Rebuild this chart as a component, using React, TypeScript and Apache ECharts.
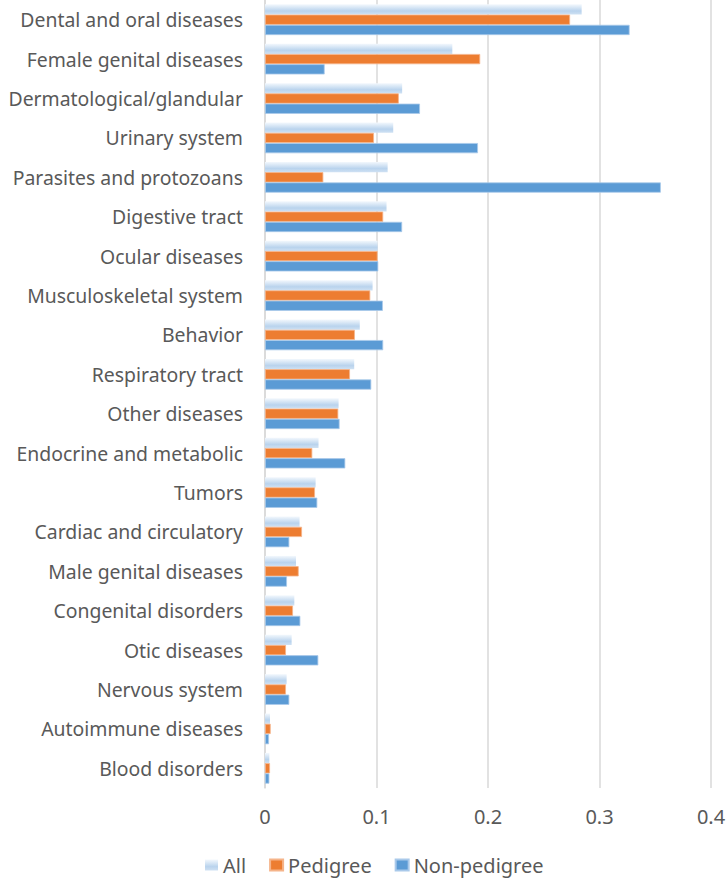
import React, { useEffect, useRef } from "react";
import * as echarts from "echarts";

const categories = [
  "Dental and oral diseases",
  "Female genital diseases",
  "Dermatological/glandular",
  "Urinary system",
  "Parasites and protozoans",
  "Digestive tract",
  "Ocular diseases",
  "Musculoskeletal system",
  "Behavior",
  "Respiratory tract",
  "Other diseases",
  "Endocrine and metabolic",
  "Tumors",
  "Cardiac and circulatory",
  "Male genital diseases",
  "Congenital disorders",
  "Otic diseases",
  "Nervous system",
  "Autoimmune diseases",
  "Blood disorders",
];

const allValues = [
  0.284, 0.168, 0.123, 0.115, 0.11, 0.109, 0.101, 0.0965, 0.085, 0.08, 0.066,
  0.048, 0.0454, 0.031, 0.0278, 0.0263, 0.0239, 0.0194, 0.0045, 0.0039,
];
const pedigreeValues = [
  0.2736, 0.193, 0.12, 0.0977, 0.0523, 0.106, 0.101, 0.0944, 0.0806, 0.0762,
  0.0657, 0.0424, 0.0448, 0.0332, 0.0302, 0.0251, 0.0188, 0.0188, 0.0051,
  0.0045,
];
const nonPedigreeValues = [
  0.327, 0.0535, 0.139, 0.191, 0.355, 0.123, 0.1016, 0.1057, 0.106, 0.0953,
  0.0669, 0.072, 0.0469, 0.0218, 0.0197, 0.0317, 0.0478, 0.0218, 0.0036,
  0.0039,
];
const seriesNames = ["All", "Pedigree", "Non-pedigree"];
const xTicks = { min: 0, max: 0.4, interval: 0.1 };

const FONT = "'Noto Sans', sans-serif";
const TEXT = "#595959";

export default function App() {
  const ref = useRef<HTMLDivElement>(null);
  useEffect(() => {
    document.body.style.margin = "0";
    const chart = echarts.init(ref.current!, null, { renderer: "svg" });
    const allGrad = new echarts.graphic.LinearGradient(0, 0, 0, 1, [
      { offset: 0, color: "#f3f8fd" },
      { offset: 0.65, color: "#b9d3ed" },
      { offset: 1, color: "#cfe1f3" },
    ]);
    chart.setOption({
      animation: false,
      textStyle: { fontFamily: FONT },
      grid: {
        left: 265,
        right: 16,
        top: 0,
        bottom: 90,
        containLabel: false,
        outerBoundsMode: "none",
      },
      legend: {
        data: seriesNames,
        top: 850,
        left: 200,
        icon: "rect",
        itemWidth: 13,
        itemHeight: 11,
        itemGap: 23,
        textStyle: { fontSize: 20, color: TEXT, fontFamily: FONT },
      },
      xAxis: {
        type: "value",
        min: xTicks.min,
        max: xTicks.max,
        interval: xTicks.interval,
        axisLine: { show: false },
        axisTick: { show: false },
        axisLabel: {
          fontSize: 20,
          color: TEXT,
          margin: 18,
          fontFamily: FONT,
          formatter: (v: number) => String(Math.round(v * 10) / 10),
        },
        splitLine: { lineStyle: { color: "#d9d9d9", width: 1.5 } },
      },
      yAxis: {
        type: "category",
        data: categories,
        inverse: true,
        axisLine: { show: true, lineStyle: { color: "#d9d9d9", width: 1.5 } },
        axisTick: { show: false },
        axisLabel: { fontSize: 19.4, color: TEXT, margin: 22, fontFamily: FONT },
      },
      series: [
        {
          name: seriesNames[0],
          type: "bar",
          data: allValues,
          barGap: "0%",
          barCategoryGap: "22%",
          itemStyle: { color: allGrad },
        },
        {
          name: seriesNames[1],
          type: "bar",
          data: pedigreeValues,
          barGap: "0%",
          barCategoryGap: "22%",
          itemStyle: { color: "#ED7D31", borderColor: "#f5b48a", borderWidth: 0.8 },
        },
        {
          name: seriesNames[2],
          type: "bar",
          data: nonPedigreeValues,
          barGap: "0%",
          barCategoryGap: "22%",
          itemStyle: { color: "#5B9BD5", borderColor: "#a9c9ea", borderWidth: 0.8 },
        },
      ],
    });
    return () => chart.dispose();
  }, []);
  return (
    <div
      ref={ref}
      style={{ position: "absolute", left: 0, top: 0, width: 727, height: 878 }}
    />
  );
}
